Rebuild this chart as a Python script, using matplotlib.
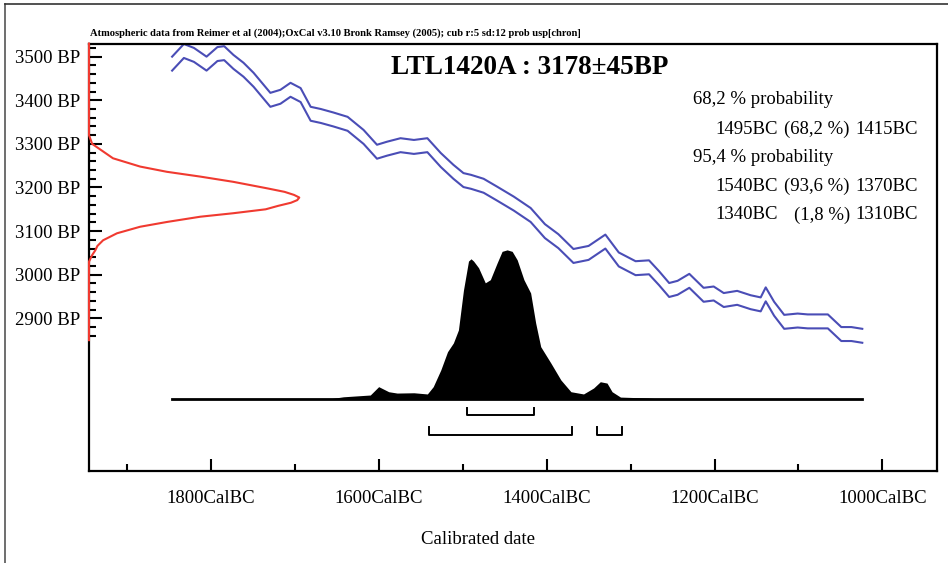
import numpy as np
import matplotlib
matplotlib.use('Agg')
import matplotlib.pyplot as plt
from matplotlib.transforms import blended_transform_factory
from matplotlib.lines import Line2D

plt.rcParams['font.family'] = ['Liberation Serif', 'DejaVu Serif']

# calibration curve (upper 1-sigma line), years BC and BP
cal_year = [1846, 1832, 1820, 1805, 1792, 1784, 1773, 1761, 1749, 1729, 1717, 1705,
            1693, 1681, 1669, 1654, 1637, 1618, 1602, 1590, 1574, 1558, 1542, 1526,
            1511, 1499, 1490, 1475, 1459, 1439, 1419, 1402, 1386, 1368, 1350, 1330,
            1314, 1294, 1278, 1266, 1254, 1244, 1230, 1213, 1201, 1189, 1173, 1157,
            1145, 1139, 1129, 1117, 1101, 1089, 1065, 1049, 1037, 1024]
cal_hi = [3500, 3529, 3520, 3500, 3522, 3524, 3504, 3486, 3463, 3417, 3424, 3440,
          3428, 3385, 3380, 3372, 3362, 3332, 3298, 3305, 3313, 3309, 3313, 3279,
          3252, 3233, 3229, 3220, 3202, 3179, 3153, 3116, 3093, 3059, 3066, 3092,
          3051, 3031, 3033, 3008, 2981, 2986, 3002, 2970, 2973, 2958, 2963, 2953,
          2948, 2971, 2938, 2908, 2911, 2909, 2909, 2880, 2880, 2876]
cal_sigma = 16

# radiocarbon measurement distribution (red), BP and relative probability
c14_bp = [3530, 3320, 3300, 3290, 3267, 3248, 3236, 3225, 3213, 3198, 3190, 3183, 3177,
          3171, 3165, 3158, 3150, 3141, 3133, 3121, 3110, 3095, 3079, 3066, 3056, 3045,
          3030, 2850]
c14_p = [0, 0, 0.015, 0.045, 0.114, 0.243, 0.37, 0.529, 0.686, 0.848, 0.93, 0.975, 1.0,
         0.99, 0.96, 0.9, 0.84, 0.686, 0.529, 0.371, 0.243, 0.133, 0.067, 0.04, 0.03, 0.015,
         0, 0]

# calibrated distribution (black), years BC and relative probability
post_year = [1660, 1642, 1610, 1600, 1588, 1578, 1558, 1542, 1535, 1526, 1518, 1511,
             1505, 1499, 1493, 1490, 1487, 1481, 1473, 1467, 1459, 1453, 1447, 1441, 1435,
             1427, 1419, 1413, 1407, 1395, 1383, 1371, 1356, 1344, 1336, 1328, 1322, 1312,
             1280, 1264]
post_p = [0, 0.015, 0.027, 0.083, 0.049, 0.04, 0.042, 0.034, 0.083, 0.195, 0.317, 0.376,
          0.463, 0.73, 0.925, 0.94, 0.925, 0.88, 0.779, 0.8, 0.911, 0.99, 1.0, 0.99, 0.933,
          0.8, 0.711, 0.51, 0.351, 0.242, 0.128, 0.049, 0.034, 0.074, 0.116, 0.107, 0.049,
          0.013, 0.007, 0]

hpd68 = [(1495, 1415)]
hpd95 = [(1540, 1370), (1340, 1310)]

legend_rows = [("68,2 % probability", None, None),
               ("1495BC", "(68,2 %)", "1415BC"),
               ("95,4 % probability", None, None),
               ("1540BC", "(93,6 %)", "1370BC"),
               ("1340BC", "(1,8 %)", "1310BC")]

x_major = [1800, 1600, 1400, 1200, 1000]
x_minor = [1900, 1700, 1500, 1300, 1100]
y_major = [2900, 3000, 3100, 3200, 3300, 3400, 3500]
y_minor = list(range(2860, 3530, 20))

W, H = 948, 563
fig = plt.figure(figsize=(W / 100, H / 100), dpi=100)
L, R, T, B = 89, 937, 44, 471
ax = fig.add_axes([L / W, 1 - B / H, (R - L) / W, (B - T) / H])
ax.set_xlim(1945, 935)
ax.set_ylim(2550, 3529)

blue = '#4a4db6'
ax.plot(cal_year, cal_hi, color=blue, lw=1.5)
ax.plot(cal_year, np.array(cal_hi) - 2 * cal_sigma, color=blue, lw=1.5)

# red curve along the y axis
tr = blended_transform_factory(ax.transAxes, ax.transData)
ax.plot(np.array(c14_p) * 0.248, c14_bp, color='#f03a30', lw=1.5,
        transform=tr, clip_on=False, zorder=4)

# calibrated distribution
base, hgt = 2715, 342
ax.fill_between(post_year, base, base + np.array(post_p) * hgt, color='black', lw=0)
ax.plot([cal_year[0], cal_year[-1]], [base, base], color='black', lw=2)

def bracket(spans, y, ytop):
    for a, b in spans:
        ax.plot([a, a, b, b], [ytop, y, y, ytop], color='black', lw=1.4)

bracket(hpd68, 2678, 2694)
bracket(hpd95, 2632, 2651)

# ticks
ax.set_xticks(x_major)
ax.set_xticks(x_minor, minor=True)
ax.set_xticklabels([f"{v}CalBC" for v in x_major])
ax.set_yticks(y_major)
ax.set_yticks(y_minor, minor=True)
ax.set_yticklabels([f"{v} BP" for v in y_major])
ax.tick_params(axis='both', which='major', direction='in', length=9, width=1.5,
               labelsize=13.5, color='black')
ax.tick_params(axis='both', which='minor', direction='in', length=5, width=1.5,
               color='black')
ax.tick_params(axis='x', pad=14)
ax.tick_params(axis='y', pad=6)
for s in ax.spines.values():
    s.set_linewidth(1.6)

# texts
fig.text(90 / W, 1 - 33 / H, "Atmospheric data from Reimer et al (2004);OxCal v3.10 Bronk Ramsey (2005); cub r:5 sd:12 prob usp[chron]",
         fontsize=7.6, fontweight='bold', va='center', ha='left')
fig.text(530 / W, 1 - 68 / H, "LTL1420A : 3178\u00b145BP", fontsize=19.5,
         fontweight='bold', ha='center', va='center')
fig.text(478 / W, 1 - 539 / H, "Calibrated date", fontsize=13.5, ha='center', va='center')

row_y = [100, 129, 157, 186, 215]
for (a, b, c), y in zip(legend_rows, row_y):
    yy = 1 - y / H
    if b is None:
        fig.text(693 / W, yy, a, fontsize=13.5, ha='left', va='center')
    else:
        fig.text(715 / W, yy, a, fontsize=13.5, ha='left', va='center')
        fig.text(850 / W, yy, b, fontsize=13.5, ha='right', va='center')
        fig.text(918 / W, yy, c, fontsize=13.5, ha='right', va='center')

# outer frame lines
fig.add_artist(Line2D([5 / W, 5 / W], [0, 1 - 4 / H], color='#555555', lw=1.2))
fig.add_artist(Line2D([5 / W, 1], [1 - 4 / H, 1 - 4 / H], color='#333333', lw=1.2))

fig.savefig('out.png', dpi=100)
